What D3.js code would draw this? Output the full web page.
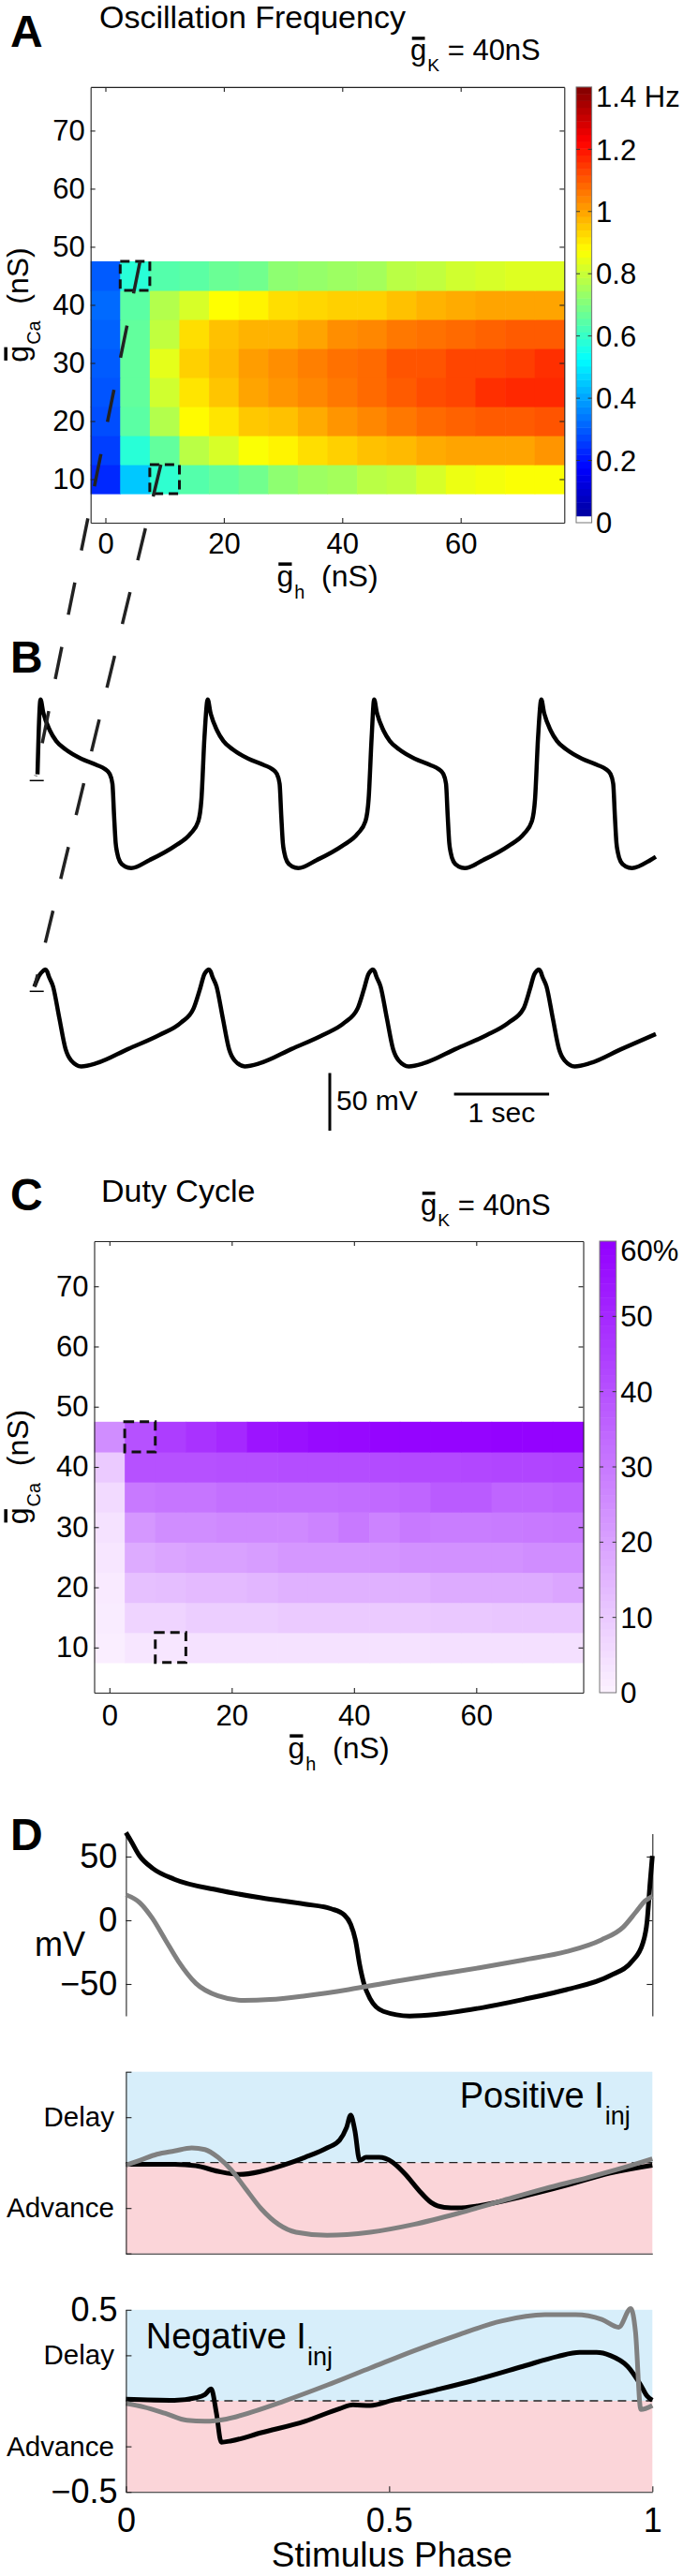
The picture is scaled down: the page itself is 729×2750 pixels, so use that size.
<!DOCTYPE html>
<html>
<head>
<meta charset="utf-8">
<script src="https://cdn.jsdelivr.net/npm/d3@7"></script>
<style>
body{margin:0;background:#fff;}
svg text{font-family:"Liberation Sans",Arial,Helvetica,sans-serif;}
</style>
</head>
<body>
<svg id="fig" width="729" height="2750"></svg>
<script>

// ---------- data ----------

// grid of the two maps
var gH  = [0,5,10,15,20,25,30,35,40,45,50,55,60,65,70,75];
var gCa = [10,15,20,25,30,35,40,45];

// oscillation frequency (Hz), one row per gCa (10 -> 45)
var freqHz = [
  [0.23,0.45,0.59,0.64,0.66,0.68,0.72,0.74,0.75,0.78,0.79,0.82,0.85,0.86,0.87,0.87],
  [0.26,0.58,0.66,0.78,0.82,0.87,0.89,0.92,0.94,0.96,0.97,0.99,1.00,1.00,1.00,1.02],
  [0.28,0.65,0.77,0.88,0.91,0.95,0.96,0.99,1.02,1.04,1.06,1.08,1.09,1.10,1.10,1.11],
  [0.29,0.66,0.81,0.91,0.955,1.00,1.02,1.04,1.06,1.08,1.10,1.12,1.13,1.16,1.17,1.17],
  [0.30,0.66,0.84,0.94,0.97,1.01,1.03,1.05,1.07,1.08,1.11,1.11,1.13,1.13,1.14,1.16],
  [0.31,0.66,0.79,0.92,0.96,0.98,0.98,1.00,1.03,1.04,1.06,1.07,1.08,1.09,1.10,1.10],
  [0.32,0.65,0.77,0.82,0.875,0.89,0.92,0.93,0.94,0.94,0.96,0.98,0.99,1.00,1.00,1.00],
  [0.30,0.58,0.64,0.65,0.67,0.68,0.72,0.73,0.74,0.75,0.78,0.79,0.81,0.82,0.83,0.83]
];

// duty cycle (%), same layout
var dutyPct = [
  [1,3,3,4,4,4,4,4,4,4,4,4.5,4.5,4.5,4.5,4.5],
  [1.5,7.5,7.5,9,9,9,10,10,10,10,10,10.5,10.5,11,11,11],
  [2,12.5,13,14,14,15,16,16,16,16,16,17.5,17.5,17.5,17.5,19],
  [3,17.5,19,20,20,21,22.5,22.5,22.5,23,24,24,24,24,25,25],
  [4,22.5,25,25,26,26,26,27.5,30,27.5,30,29,29,29.5,30,30.5],
  [6,30,31,31,32.5,32.5,32.5,32.5,33,34,35,37.5,37.5,35,35,36],
  [10,40,40,40,40.5,40.5,41,41,41,41.5,42,42,42.5,43,43,43.5],
  [25,40,45,47.5,50,55,56,57.5,58,59,59,59,59,59.5,59.5,59.5]
];

// the two highlighted cells [gh, gCa]
var boxCells = [[5,45],[10,10]];

var ticksGh  = [0,20,40,60];
var ticksGca = [10,20,30,40,50,60,70];
var freqTicks = [0,0.2,0.4,0.6,0.8,1,1.2,1.4];
var dutyTicks = [0,10,20,30,40,50,60];

// B: voltage traces [time s, mV]
var traceUpper = [
  [0.02,5.4],[0.052,70.3],[0.079,59.5],[0.151,43.3],[0.217,34.3],[0.315,27],[0.48,18.9],[0.643,13.5],[0.729,10],[0.778,5.9],[0.808,-2.8],[0.825,-29.8],[0.842,-54],[0.857,-62.3],[0.887,-70.3],[0.939,-74.4],[1.005,-75.8],[1.202,-68.7],[1.465,-56.6],[1.629,-46],[1.711,-35.2],[1.744,-16],[1.776,37.8],
  [1.81,70.3],[1.837,59.5],[1.909,43.3],[1.975,34.3],[2.073,27],[2.238,18.9],[2.401,13.5],[2.487,10],[2.536,5.9],[2.566,-2.8],[2.583,-29.8],[2.6,-54],[2.615,-62.3],[2.645,-70.3],[2.697,-74.4],[2.763,-75.8],[2.96,-68.7],[3.223,-56.6],[3.387,-46],[3.469,-35.2],[3.502,-16],[3.534,37.8],
  [3.56,70.3],[3.587,59.5],[3.659,43.3],[3.725,34.3],[3.823,27],[3.988,18.9],[4.151,13.5],[4.237,10],[4.286,5.9],[4.316,-2.8],[4.333,-29.8],[4.35,-54],[4.365,-62.3],[4.395,-70.3],[4.447,-74.4],[4.513,-75.8],[4.71,-68.7],[4.973,-56.6],[5.137,-46],[5.219,-35.2],[5.252,-16],[5.284,37.8],
  [5.318,70.3],[5.345,59.5],[5.417,43.3],[5.483,34.3],[5.581,27],[5.746,18.9],[5.909,13.5],[5.995,10],[6.044,5.9],[6.074,-2.8],[6.091,-29.8],[6.108,-54],[6.123,-62.3],[6.153,-70.3],[6.205,-74.4],[6.271,-75.8],[6.468,-68.7],[6.522,-66]
];
var traceLower = [
  [-0.013,4.1],[0.036,13.5],[0.08,17.8],[0.101,18.9],[0.121,17.3],[0.138,13.2],[0.184,4.1],[0.249,-23],[0.315,-50],[0.374,-59.9],[0.48,-65],[0.643,-62.2],[0.972,-50],[1.3,-37.9],[1.53,-27.1],[1.661,-14.9],[1.726,1.3],[1.775,14.9],[1.8,17.8],
  [1.82,18.9],[1.84,17.3],[1.857,13.2],[1.903,4.1],[1.968,-23],[2.034,-50],[2.093,-59.9],[2.199,-65],[2.362,-62.2],[2.691,-50],[3.019,-37.9],[3.249,-27.1],[3.386,-14.9],[3.451,1.3],[3.5,14.9],[3.525,17.8],
  [3.545,18.9],[3.565,17.3],[3.582,13.2],[3.628,4.1],[3.693,-23],[3.759,-50],[3.818,-59.9],[3.924,-65],[4.087,-62.2],[4.416,-50],[4.744,-37.9],[4.974,-27.1],[5.131,-14.9],[5.196,1.3],[5.245,14.9],[5.27,17.8],
  [5.29,18.9],[5.31,17.3],[5.327,13.2],[5.373,4.1],[5.438,-23],[5.504,-50],[5.563,-59.9],[5.669,-65],[5.832,-62.2],[6.161,-50],[6.522,-37]
];

// D: one cycle vs phase, [phase, mV]
var phaseBlackV = [[0,68.8],[0.009,62.7],[0.026,50.5],[0.051,40.7],[0.092,32.2],[0.175,23.7],[0.257,17.6],[0.34,12.7],[0.39,9],[0.415,4.1],[0.427,-3.2],[0.436,-15.4],[0.444,-34.9],[0.452,-49.5],[0.464,-61.7],[0.489,-71.5],[0.539,-75.1],[0.589,-73.9],[0.671,-69],[0.754,-62.2],[0.837,-54.4],[0.92,-43.4],[0.961,-32.4],[0.982,-17.8],[0.99,-0.7],[0.996,31],[1,50.5]];
var phaseGrayV  = [[0,20],[0.026,13.9],[0.05,1.7],[0.075,-15.4],[0.1,-32.4],[0.133,-49.5],[0.175,-59.3],[0.224,-62.9],[0.274,-62.2],[0.34,-59.3],[0.423,-54.4],[0.506,-48.3],[0.589,-42.7],[0.671,-37.3],[0.754,-31.2],[0.837,-24.6],[0.903,-15.4],[0.944,-5.6],[0.969,6.6],[0.986,15.1],[1,18.8]];

// phase response, [phase, shift]
var prcPosBlack = [[0,-0.009],[0.092,-0.009],[0.133,-0.017],[0.175,-0.048],[0.216,-0.065],[0.257,-0.048],[0.299,-0.014],[0.34,0.029],[0.382,0.081],[0.406,0.124],[0.419,0.192],[0.427,0.261],[0.435,0.175],[0.444,0.012],[0.456,0.029],[0.481,0.029],[0.506,0.003],[0.531,-0.065],[0.556,-0.151],[0.58,-0.22],[0.605,-0.246],[0.63,-0.249],[0.671,-0.237],[0.754,-0.186],[0.837,-0.125],[0.92,-0.057],[1,-0.014]];
var prcPosGray  = [[0,-0.014],[0.026,0.012],[0.059,0.046],[0.092,0.064],[0.125,0.081],[0.15,0.072],[0.175,0.029],[0.2,-0.04],[0.225,-0.134],[0.257,-0.254],[0.29,-0.34],[0.323,-0.383],[0.382,-0.4],[0.464,-0.383],[0.547,-0.34],[0.63,-0.28],[0.713,-0.211],[0.796,-0.143],[0.878,-0.082],[0.961,-0.014],[1,0.021]];
var prcNegBlack = [[0,0.009],[0.092,0.003],[0.133,0.017],[0.15,0.034],[0.162,0.065],[0.172,-0.069],[0.181,-0.227],[0.2,-0.22],[0.257,-0.175],[0.34,-0.112],[0.406,-0.043],[0.431,-0.022],[0.464,-0.026],[0.506,0.003],[0.589,0.06],[0.671,0.12],[0.754,0.189],[0.82,0.244],[0.862,0.266],[0.894,0.266],[0.92,0.249],[0.953,0.189],[0.978,0.086],[0.99,0.026],[1,0.003]];
var prcNegGray  = [[0,-0.014],[0.034,-0.034],[0.075,-0.069],[0.116,-0.107],[0.15,-0.112],[0.191,-0.1],[0.241,-0.06],[0.299,-0.003],[0.382,0.086],[0.464,0.18],[0.547,0.275],[0.63,0.361],[0.713,0.438],[0.796,0.473],[0.854,0.473],[0.904,0.447],[0.936,0.404],[0.959,0.507],[0.968,0.378],[0.978,-0.048],[1,-0.026]];

// ---------- drawing ----------

var svg = d3.select('#fig');
var FONT = 31;

// jet colour map, 0..1.4 Hz
var jet = d3.scaleLinear()
  .domain([0,0.125,0.375,0.625,0.875,1].map(function(f){ return f*1.4; }))
  .range(['#000090','#0000ff','#00ffff','#ffff00','#ff0000','#800000'])
  .clamp(true);
var purple = d3.scaleLinear().domain([0,60]).range(['#fcf2ff','#9300ff']).clamp(true);

// "g" with a bar on top, subscript and the rest of the text
function gbarLabel(parent, sub, rest, size){
  var g = parent.append('g');
  var t = g.append('text').attr('font-size', size).style('white-space','pre');
  t.append('tspan').text('g');
  t.append('tspan').attr('font-size', size*0.62).attr('dx', 1).attr('dy', size*0.4).text(sub);
  t.append('tspan').attr('dy', -size*0.4).text(rest);
  var gw = t.node().getSubStringLength(0,1);
  g.append('rect')
    .attr('x', gw*0.1).attr('y', -size*0.8)
    .attr('width', gw*0.8).attr('height', size*0.11)
    .attr('fill','#000');
  return g;
}

function styleAxis(sel, size){
  sel.attr('font-family', null).attr('font-size', size);
  sel.select('.domain').attr('stroke','#222').attr('stroke-width',1.1);
  sel.selectAll('.tick line').attr('stroke','#222').attr('stroke-width',1.1);
  sel.selectAll('.tick text').attr('fill','#000');
}

function heatmap(opt){
  var x = d3.scaleLinear().domain([-2.5,77.5]).range([opt.left,opt.right]);
  var y = d3.scaleLinear().domain([2.5,77.5]).range([opt.bottom,opt.top]);
  var g = svg.append('g');

  var cells = [];
  opt.values.forEach(function(row,i){
    row.forEach(function(v,j){ cells.push({gh:gH[j], gca:gCa[i], v:v}); });
  });
  g.selectAll('rect.cell').data(cells).enter().append('rect')
    .attr('class','cell')
    .attr('x', function(d){ return x(d.gh-2.5); })
    .attr('y', function(d){ return y(d.gca+2.5); })
    .attr('width', x(5)-x(0)+0.6)
    .attr('height', y(0)-y(5)+0.6)
    .attr('fill', function(d){ return opt.color(d.v); });

  // box + ticks on all four sides, ticks inwards
  var ax;
  ax = g.append('g').attr('transform','translate(0,'+opt.bottom+')')
    .call(d3.axisBottom(x).tickValues(ticksGh).tickSizeInner(-5).tickSizeOuter(0).tickPadding(opt.xPad));
  styleAxis(ax, FONT);
  ax = g.append('g').attr('transform','translate(0,'+opt.top+')')
    .call(d3.axisTop(x).tickValues(ticksGh).tickSizeInner(-5).tickSizeOuter(0).tickFormat(''));
  styleAxis(ax, FONT);
  ax = g.append('g').attr('transform','translate('+opt.left+',0)')
    .call(d3.axisLeft(y).tickValues(ticksGca).tickSizeInner(-5).tickSizeOuter(0).tickPadding(6));
  styleAxis(ax, FONT);
  ax = g.append('g').attr('transform','translate('+opt.right+',0)')
    .call(d3.axisRight(y).tickValues(ticksGca).tickSizeInner(-5).tickSizeOuter(0).tickFormat(''));
  styleAxis(ax, FONT);

  // dashed boxes
  g.selectAll('rect.hl').data(boxCells).enter().append('rect')
    .attr('x', function(d){ return x(d[0]-2.5); })
    .attr('y', function(d){ return y(d[1]+2.5); })
    .attr('width', x(5)-x(0)).attr('height', y(0)-y(5))
    .attr('fill','none').attr('stroke','#111').attr('stroke-width',3)
    .attr('stroke-dasharray','10,6');

  // colour bar, 64 bands
  var cb = d3.scaleLinear().domain([0,opt.max]).range([opt.bottom,opt.top]);
  var bands = d3.range(64);
  g.selectAll('rect.band').data(bands).enter().append('rect')
    .attr('x', opt.cbLeft).attr('width', opt.cbRight-opt.cbLeft)
    .attr('y', function(k){ return cb((k+1)*opt.max/64); })
    .attr('height', cb(0)-cb(opt.max/64)+0.5)
    .attr('fill', function(k){ return opt.bandColor(k); });
  g.append('rect')
    .attr('x', opt.cbLeft).attr('y', opt.top)
    .attr('width', opt.cbRight-opt.cbLeft).attr('height', opt.bottom-opt.top)
    .attr('fill','none').attr('stroke','#777').attr('stroke-width',1);
  var ct = opt.cbTicks.slice(1, opt.cbTicks.length-1);
  g.selectAll('line.cbt1').data(ct).enter().append('line')
    .attr('x1', opt.cbLeft).attr('x2', opt.cbLeft+4)
    .attr('y1', cb).attr('y2', cb).attr('stroke','#333');
  g.selectAll('line.cbt2').data(ct).enter().append('line')
    .attr('x1', opt.cbRight-4).attr('x2', opt.cbRight)
    .attr('y1', cb).attr('y2', cb).attr('stroke','#333');
  g.selectAll('text.cbl').data(opt.cbTicks).enter().append('text')
    .attr('x', opt.cbRight+4.5)
    .attr('y', function(d){ return Math.max(cb(d), opt.top+10); })
    .attr('dy','0.36em')
    .attr('font-size', FONT)
    .text(opt.cbFormat);

  // titles and labels
  svg.append('text').attr('x', 11).attr('y', opt.letterY)
    .attr('font-size', 48).attr('font-weight','bold').text(opt.letter);
  svg.append('text').attr('x', opt.titleX).attr('y', opt.titleY)
    .attr('font-size', 34).text(opt.title);
  gbarLabel(svg, 'K', ' = 40nS', FONT)
    .attr('transform','translate('+opt.gkX+','+opt.gkY+')');

  var xl = gbarLabel(svg, 'h', '  (nS)', 32);
  var w = xl.node().getBBox().width;
  xl.attr('transform','translate('+((opt.left+opt.right)/2 - w/2)+','+opt.xLabY+')');

  var yl = gbarLabel(svg, 'Ca', '  (nS)', 32);
  w = yl.node().getBBox().width;
  yl.attr('transform','translate(30,'+((opt.top+opt.bottom)/2)+') rotate(-90) translate('+(-w/2)+',0)');
  return {x:x, y:y};
}

// ---- A: frequency map ----
var mapA = heatmap({
  left:96.7, right:602.3, top:92.9, bottom:558,
  values:freqHz, color:jet, max:1.4,
  bandColor:function(k){ return k===0 ? '#ffffff' : jet((k+0.5)*1.4/64); },
  cbLeft:615, cbRight:631.6, cbTicks:freqTicks,
  cbFormat:function(d){ return d===1.4 ? '1.4 Hz' : String(d); },
  xPad:11, xLabY:626,
  letter:'A', letterY:50, title:'Oscillation Frequency', titleX:106, titleY:30,
  gkX:438, gkY:64
});

// ---- C: duty cycle map ----
var mapC = heatmap({
  left:100.5, right:622.5, top:1325, bottom:1807,
  values:dutyPct, color:purple, max:60,
  bandColor:function(k){ return purple((k+0.5)*60/64); },
  cbLeft:640, cbRight:657.7, cbTicks:dutyTicks,
  cbFormat:function(d){ return d===60 ? '60%' : String(d); },
  xPad:13, xLabY:1877,
  letter:'C', letterY:1292, title:'Duty Cycle', titleX:108, titleY:1283,
  gkX:449, gkY:1297
});

// ---- B: voltage traces ----
svg.append('text').attr('x', 11).attr('y', 718)
  .attr('font-size', 48).attr('font-weight','bold').text('B');

var xB = d3.scaleLinear().domain([0,1]).range([38,139.5]);
var yUp = d3.scaleLinear().domain([0,50]).range([833.3,771.7]);
var yLo = d3.scaleLinear().domain([0,50]).range([1058.3,996.7]);

var lineUp = d3.line().x(function(d){ return xB(d[0]); }).y(function(d){ return yUp(d[1]); }).curve(d3.curveMonotoneX);
var lineLo = d3.line().x(function(d){ return xB(d[0]); }).y(function(d){ return yLo(d[1]); }).curve(d3.curveMonotoneX);

svg.append('path').datum(traceUpper).attr('d', lineUp)
  .attr('fill','none').attr('stroke','#000').attr('stroke-width',4.5).attr('stroke-linejoin','round');
svg.append('path').datum(traceLower).attr('d', lineLo)
  .attr('fill','none').attr('stroke','#000').attr('stroke-width',4.5).attr('stroke-linejoin','round');

// 0 mV markers
[yUp(0), yLo(0)].forEach(function(yy){
  svg.append('line').attr('x1',31.7).attr('x2',46.7).attr('y1',yy).attr('y2',yy)
    .attr('stroke','#000').attr('stroke-width',1.5);
});

// scale bars: 50 mV and 1 s
var barTop = 1145.5;
svg.append('line').attr('x1',352).attr('x2',352)
  .attr('y1',barTop).attr('y2',barTop+(yUp(0)-yUp(50)))
  .attr('stroke','#000').attr('stroke-width',3);
svg.append('line').attr('x1',xB(4.4)).attr('x2',xB(5.4)).attr('y1',1168).attr('y2',1168)
  .attr('stroke','#000').attr('stroke-width',3);
svg.append('text').attr('x',359).attr('y',1185).attr('font-size',30).text('50 mV');
svg.append('text').attr('x',(xB(4.4)+xB(5.4))/2).attr('y',1198).attr('font-size',30)
  .attr('text-anchor','middle').text('1 sec');

// dashed leaders from the boxed cells to the traces
var leaders = [
  [[mapA.x(5)+3.5+1.9, mapA.y(47.5)], [xB(0), yUp(4)]],
  [[mapA.x(10)-4, mapA.y(12.5)], [xB(-0.01), yLo(4)]]
];
leaders.forEach(function(p){
  svg.append('line')
    .attr('x1',p[0][0]).attr('y1',p[0][1]).attr('x2',p[1][0]).attr('y2',p[1][1])
    .attr('stroke','#222').attr('stroke-width',3.5).attr('stroke-dasharray','35,35');
});

// ---- D: phase plots ----
svg.append('text').attr('x', 11).attr('y', 1975)
  .attr('font-size', 48).attr('font-weight','bold').text('D');

var xD = d3.scaleLinear().domain([0,1]).range([134.4,696.3]);
var yV = d3.scaleLinear().domain([-75,68]).range([2152,1957.5]);
var yP = d3.scaleLinear().domain([-0.5,0.5]).range([2405.7,2211.7]);
var yN = d3.scaleLinear().domain([-0.5,0.5]).range([2660.2,2465.8]);

function curve(data, ys, color){
  var l = d3.line().x(function(d){ return xD(d[0]); }).y(function(d){ return ys(d[1]); }).curve(d3.curveMonotoneX);
  svg.append('path').datum(data).attr('d', l)
    .attr('fill','none').attr('stroke',color).attr('stroke-width',5).attr('stroke-linejoin','round');
}

// D1 voltage
var ax = svg.append('g').attr('transform','translate('+xD(0)+',0)')
  .call(d3.axisLeft(yV).tickValues([-50,0,50]).tickSizeInner(-6).tickSizeOuter(0).tickPadding(9));
styleAxis(ax, 36);
ax = svg.append('g').attr('transform','translate('+xD(1)+',0)')
  .call(d3.axisRight(yV).tickValues([-50,0,50]).tickSizeInner(-6).tickSizeOuter(0).tickFormat(''));
styleAxis(ax, 36);
svg.append('text').attr('x',37).attr('y',2088).attr('font-size',36).text('mV');
curve(phaseBlackV, yV, '#000');
curve(phaseGrayV, yV, '#808080');

// D2 / D3 phase response
function prcPanel(ys, black, gray, labels, withX){
  svg.append('rect').attr('x',xD(0)).attr('width',xD(1)-xD(0))
    .attr('y',ys(0.5)).attr('height',ys(0)-ys(0.5)).attr('fill','#d7eefa');
  svg.append('rect').attr('x',xD(0)).attr('width',xD(1)-xD(0))
    .attr('y',ys(0)).attr('height',ys(-0.5)-ys(0)).attr('fill','#fbd5d9');
  svg.append('line').attr('x1',xD(0)).attr('x2',xD(1)).attr('y1',ys(0)).attr('y2',ys(0))
    .attr('stroke','#222').attr('stroke-width',1.3).attr('stroke-dasharray','9,6');
  curve(black, ys, '#000');
  curve(gray, ys, '#808080');

  var a = svg.append('g').attr('transform','translate('+xD(0)+',0)')
    .call(d3.axisLeft(ys).tickValues([-0.5,-0.25,0.25,0.5]).tickSizeInner(-6).tickSizeOuter(0)
      .tickFormat(function(d){ return labels[String(d)] || ''; }));
  styleAxis(a, 36);
  a.selectAll('.tick text')
    .attr('font-size', function(d){ return Math.abs(d)===0.25 ? 29.5 : 36; })
    .attr('x', function(d){ return Math.abs(d)===0.25 ? -12.5 : -8.8; });

  var b = svg.append('g').attr('transform','translate(0,'+ys(-0.5)+')')
    .call(d3.axisBottom(xD).tickValues(withX ? [0,0.5,1] : []).tickSizeInner(-6).tickSizeOuter(0)
      .tickPadding(17).tickFormat(d3.format('')));
  styleAxis(b, 36);
}

prcPanel(yP, prcPosBlack, prcPosGray, {'0.25':'Delay','-0.25':'Advance'}, false);
prcPanel(yN, prcNegBlack, prcNegGray, {'0.5':'0.5','0.25':'Delay','-0.25':'Advance','-0.5':'\u22120.5'}, true);

function iinj(x, y, word){
  var t = svg.append('text').attr('x',x).attr('y',y).attr('font-size',38);
  t.append('tspan').text(word + ' I');
  t.append('tspan').attr('font-size',27).attr('dy',18).attr('dx',1).text('inj');
}
iinj(490.7, 2250, 'Positive');
iinj(155.8, 2506.7, 'Negative');

svg.append('text').attr('x',xD(0.5)+3).attr('y',2740).attr('font-size',37)
  .attr('text-anchor','middle').text('Stimulus Phase');

</script>
</body>
</html>
